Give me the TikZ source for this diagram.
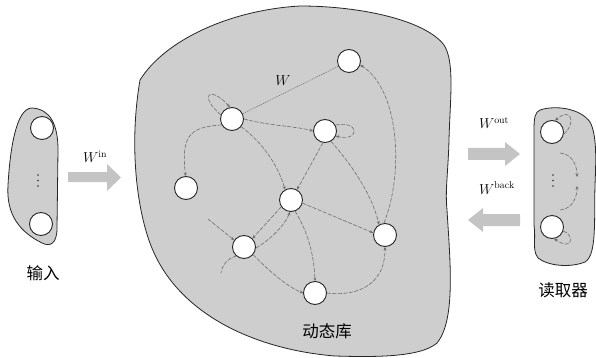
\documentclass[tikz,border=0pt]{standalone}
\usepackage{fontspec}
\newfontfamily\cjk{Noto Sans CJK SC}
\usetikzlibrary{arrows.meta}
\definecolor{blobfill}{RGB}{206,206,206}
\definecolor{arrowfill}{RGB}{196,196,196}
\definecolor{edgecol}{RGB}{110,110,110}
\tikzset{
  blob/.style={fill=blobfill,draw=black!85,line width=0.8pt},
  neuron/.style={circle,fill=white,draw=black!85,line width=0.9pt,minimum size=23pt,inner sep=0pt},
  edge/.style={draw=edgecol,line width=0.6pt,dash pattern=on 4pt off 1.5pt,-{Stealth[length=3.5pt,width=3pt]}},
  edgeplain/.style={draw=edgecol,line width=0.6pt,dash pattern=on 4pt off 1.5pt},
  fine/.style={draw=edgecol,line width=0.5pt,dash pattern=on 1.5pt off 1pt},
  bigarrow/.style={fill=arrowfill,draw=none},
  dot/.style={fill=black!80},
  cjklabel/.style={font=\cjk\fontsize{16.5}{18}\selectfont,inner sep=0pt},
  wlabel/.style={font=\fontsize{14}{16}\selectfont,inner sep=0pt}
}
\begin{document}
\begin{tikzpicture}[x=1pt,y=-1pt]
\useasboundingbox (0,0) rectangle (596,358);
% input blob
\path[blob] (32,108) .. controls (50,109) and (58,124) .. (58,150)
  -- (57,228) .. controls (57,244) and (50,247) .. (42,243)
  .. controls (20,232) and (6,215) .. (8,185)
  .. controls (10,150) and (16,108) .. (32,108) -- cycle;
% reservoir blob
\path[blob] (300,6) .. controls (360,6) and (425,20) .. (444,45)
  .. controls (455,62) and (450,100) .. (449,140)
  .. controls (448,175) and (445,190) .. (447,210)
  .. controls (450,260) and (456,320) .. (437,343)
  .. controls (420,358) and (370,357) .. (335,356)
  .. controls (260,350) and (185,318) .. (155,255)
  .. controls (138,220) and (128,150) .. (140,80)
  .. controls (165,40) and (230,10) .. (300,6) -- cycle;
% readout blob
\path[blob] (540,110) .. controls (555,105) and (580,108) .. (590,122)
  .. controls (597,135) and (596,160) .. (595,185)
  .. controls (594,220) and (597,255) .. (585,262)
  .. controls (570,268) and (548,266) .. (538,258)
  .. controls (532,250) and (536,240) .. (534,225)
  -- (534,130) .. controls (534,118) and (535,112) .. (540,110) -- cycle;

% big arrows
\path[bigarrow] (68,172) -- (107,172) -- (107,164) -- (121,177.5) -- (107,191) -- (107,182) -- (68,182) -- cycle;
\path[bigarrow] (468,148) -- (505,148) -- (505,142) -- (520,154) -- (505,166) -- (505,160) -- (468,160) -- cycle;
\path[bigarrow] (520,214) -- (483,214) -- (483,208) -- (468,220) -- (483,232) -- (483,226) -- (520,226) -- cycle;

% labels
\node[wlabel] (win) at (95,157) {$W^{\mathrm{in}}$};
\node[wlabel] (wout) at (494,123) {$W^{\mathrm{out}}$};
\node[wlabel] (wback) at (497,188) {$W^{\mathrm{back}}$};
\node[cjklabel] (lin) at (43,273) {输入};
\node[cjklabel] (lres) at (327,331) {动态库};
\node[cjklabel] (lout) at (563,290) {读取器};

% input neurons
\node[neuron] (i1) at (42,128) {};
\node[neuron] (i2) at (41,224) {};
\fill[dot] (38,175) circle (0.9pt) (38,180.5) circle (0.9pt) (38,186) circle (0.9pt);

% readout neurons
\node[neuron] (r1) at (552,132) {};
\node[neuron] (r2) at (552,227) {};
\fill[dot] (553,175) circle (0.9pt) (553,180.5) circle (0.9pt) (553,186) circle (0.9pt);

% reservoir neurons
\node[neuron] (n1) at (349,61) {};
\node[neuron] (n2) at (232,119) {};
\node[neuron] (n3) at (325,131) {};
\node[neuron] (n4) at (186,188) {};
\node[neuron] (n5) at (291,200) {};
\node[neuron] (n6) at (244,247) {};
\node[neuron] (n7) at (385,235) {};
\node[neuron] (n8) at (315,293) {};

% reservoir connections
\draw[fine] (n2) -- (n1);
\node[wlabel] (wres) at (283,81) {$W$};
\draw[edge] (n7.95) .. controls (405,170) and (398,88) .. (n1.-20);
\draw[edge] (n3.-60) .. controls (352,165) and (372,195) .. (n7.120);
\draw[edge] (n2.east) .. controls (270,126) and (295,126) .. (n3.west);
\draw[edge] (n3.30) .. controls (360,120) and (360,142) .. (n3.-25);
\draw[edge] (n2.160) .. controls (198,95) and (210,85) .. (n2.100);
\draw[edge] (n2.210) .. controls (190,127) and (181,135) .. (n4.92);
\draw[edge] (n2.-40) .. controls (262,142) and (278,165) .. (n5.120);
\draw[edge] (n3.-100) -- (n5.60);
\draw[edge] (n5.-15) -- (n7.170);
\draw[edge] (n5.-70) .. controls (308,232) and (314,255) .. (n8.90);
\draw[edge] (n5.215) -- (n6.45);
\draw[edge] (n6.-5) .. controls (270,240) and (285,225) .. (n5.-95);
\coordinate (la) at (208,219);
\coordinate (lb) at (221,273);
\draw[edge] (la) -- (n6.145);
\draw[edgeplain] (n6.230) .. controls (228,258) and (222,265) .. (lb);
\draw[edge] (n6.-40) .. controls (270,272) and (288,287) .. (n8.180);
\draw[edge] (n8.0) .. controls (350,296) and (385,290) .. (n7.-90);

% readout connections
\draw[edge] (r1.-10) .. controls (576,124) and (572,106) .. (r1.75);
\draw[edge] (r2.-20) .. controls (574,234) and (574,252) .. (r2.-80);
\coordinate (ra) at (560,153);
\coordinate (rb) at (577,177);
\coordinate (rc) at (560,210);
\coordinate (rd) at (577,186);
\draw[edge] (ra) .. controls (572,154) and (577,165) .. (rb);
\draw[edge] (rc) .. controls (572,209) and (577,198) .. (rd);
\end{tikzpicture}
\end{document}
